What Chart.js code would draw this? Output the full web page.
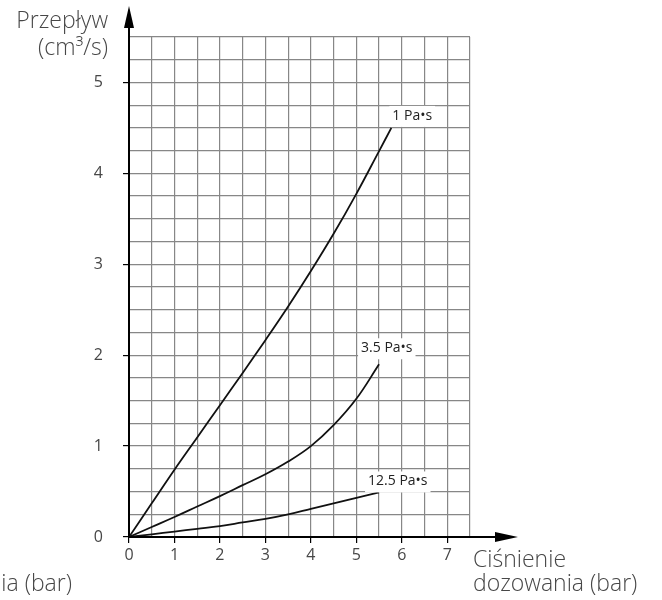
<!DOCTYPE html>
<html>
<head>
<meta charset="utf-8">
<script src="https://cdn.jsdelivr.net/npm/chart.js@4/dist/chart.umd.min.js"></script>
<style>
  body { margin: 0; background: #fff; }
  canvas { display: block; }
</style>
</head>
<body>
<canvas id="flowChart" width="662" height="600"></canvas>
<script>
// pressure (bar) sampled along each curve
const pressure = [0, 0.5, 1, 1.5, 2, 2.5, 3, 3.5, 4, 4.5, 5, 5.5];
const pressure1 = [0, 0.5, 1, 1.5, 2, 2.5, 3, 3.5, 4, 4.5, 5, 5.5, 5.77];

// flow (cm3/s) per viscosity
const flow1 = [0, 0.37, 0.74, 1.095, 1.45, 1.805, 2.165, 2.535, 2.925, 3.335, 3.775, 4.245, 4.5];
const flow35 = [0, 0.11, 0.22, 0.335, 0.45, 0.57, 0.69, 0.83, 1.0, 1.23, 1.52, 1.9];
const flow125 = [0, 0.03, 0.06, 0.09, 0.12, 0.16, 0.2, 0.25, 0.31, 0.37, 0.43, 0.49];

const seriesNames = ['1 Pa•s', '3.5 Pa•s', '12.5 Pa•s'];

const xMax = 7.5;
const yMax = 5.5;

const toPoints = (xs, ys) => xs.map((x, i) => ({ x: x, y: ys[i] }));

const textColor = '#474747';
const gridColor = '#878787';
const FONT = "'Open Sans', sans-serif";

// label offsets from the end of each curve (px)
const labelOffsets = [
    { dx: 1, dy: -12 },
    { dx: -18, dy: -16 },
    { dx: -11, dy: -11 }
];

const axesPlugin = {
    id: 'axesPlugin',
    afterDraw(chart) {
        const ctx = chart.ctx;
        const xs = chart.scales.x;
        const ys = chart.scales.y;
        const x0 = xs.getPixelForValue(0);
        const y0 = ys.getPixelForValue(0);

        ctx.save();
        // axis lines
        ctx.strokeStyle = '#000';
        ctx.lineWidth = 2;
        ctx.beginPath();
        ctx.moveTo(x0, y0);
        ctx.lineTo(x0, 20);
        ctx.moveTo(x0, y0);
        ctx.lineTo(503, y0);
        ctx.stroke();

        // arrow heads
        ctx.fillStyle = '#000';
        ctx.beginPath();
        ctx.moveTo(x0, 6);
        ctx.lineTo(x0 - 5, 28);
        ctx.lineTo(x0 + 5, 28);
        ctx.closePath();
        ctx.fill();
        ctx.beginPath();
        ctx.moveTo(518, y0);
        ctx.lineTo(495, y0 - 5);
        ctx.lineTo(495, y0 + 5);
        ctx.closePath();
        ctx.fill();

        // curve labels
        ctx.font = '14px ' + FONT;
        ctx.textBaseline = 'middle';
        ctx.textAlign = 'left';
        chart.data.datasets.forEach((ds, i) => {
            const pts = chart.getDatasetMeta(i).data;
            const end = pts[pts.length - 1];
            const off = labelOffsets[i];
            const tx = end.x + off.dx;
            const ty = end.y + off.dy;
            const w = ctx.measureText(ds.label).width;
            ctx.fillStyle = '#fff';
            ctx.fillRect(tx - 3, ty - 10, w + 6, 21);
            ctx.fillStyle = '#222';
            ctx.fillText(ds.label, tx, ty);
        });

        // axis titles
        ctx.fillStyle = textColor;
        ctx.font = '300 23px ' + FONT;
        ctx.textBaseline = 'alphabetic';
        ctx.textAlign = 'right';
        ctx.fillText('Przepływ', 108, 28);
        ctx.fillText('(cm³/s)', 108, 55);
        ctx.fillText('dozowania (bar)', 72, 591);
        ctx.textAlign = 'left';
        ctx.fillText('Ciśnienie', 473, 567);
        ctx.fillText('dozowania (bar)', 473, 591);
        ctx.restore();
    }
};

const isWhole = v => Math.abs(v - Math.round(v)) < 1e-6;

new Chart(document.getElementById('flowChart'), {
    type: 'line',
    data: {
        datasets: [{
            label: seriesNames[0],
            data: toPoints(pressure1, flow1)
        }, {
            label: seriesNames[1],
            data: toPoints(pressure, flow35)
        }, {
            label: seriesNames[2],
            data: toPoints(pressure, flow125)
        }].map(ds => Object.assign(ds, {
            borderColor: '#111',
            borderWidth: 1.8,
            pointRadius: 0,
            fill: false,
            tension: 0.4
        }))
    },
    options: {
        responsive: false,
        animation: false,
        layout: {
            padding: { left: 0, top: 37, right: 192, bottom: 0 }
        },
        plugins: {
            legend: { display: false },
            tooltip: { enabled: false }
        },
        scales: {
            x: {
                type: 'linear',
                min: 0,
                max: xMax,
                border: { display: false },
                grid: {
                    color: gridColor,
                    lineWidth: 1.2,
                    tickLength: 6,
                    tickWidth: 1.2,
                    tickColor: c => isWhole(c.tick.value) && c.tick.value < xMax ? '#000' : 'rgba(0,0,0,0)'
                },
                ticks: {
                    stepSize: 0.5,
                    autoSkip: false,
                    maxRotation: 0,
                    padding: 3,
                    color: textColor,
                    font: { family: FONT, size: 16 },
                    callback: v => (isWhole(v) && v < xMax) ? String(v) : ''
                },
                afterFit: s => { s.height = 63; }
            },
            y: {
                min: 0,
                max: yMax,
                border: { display: false },
                grid: {
                    color: gridColor,
                    lineWidth: 1.2,
                    tickLength: 6,
                    tickWidth: 1.2,
                    tickColor: c => isWhole(c.tick.value) && c.tick.value < yMax ? '#000' : 'rgba(0,0,0,0)'
                },
                ticks: {
                    stepSize: 0.25,
                    autoSkip: false,
                    padding: 20,
                    color: textColor,
                    font: { family: FONT, size: 16 },
                    callback: v => (isWhole(v) && v < yMax) ? String(v) : ''
                },
                afterFit: s => { s.width = 129; }
            }
        }
    },
    plugins: [axesPlugin]
});
</script>
</body>
</html>
